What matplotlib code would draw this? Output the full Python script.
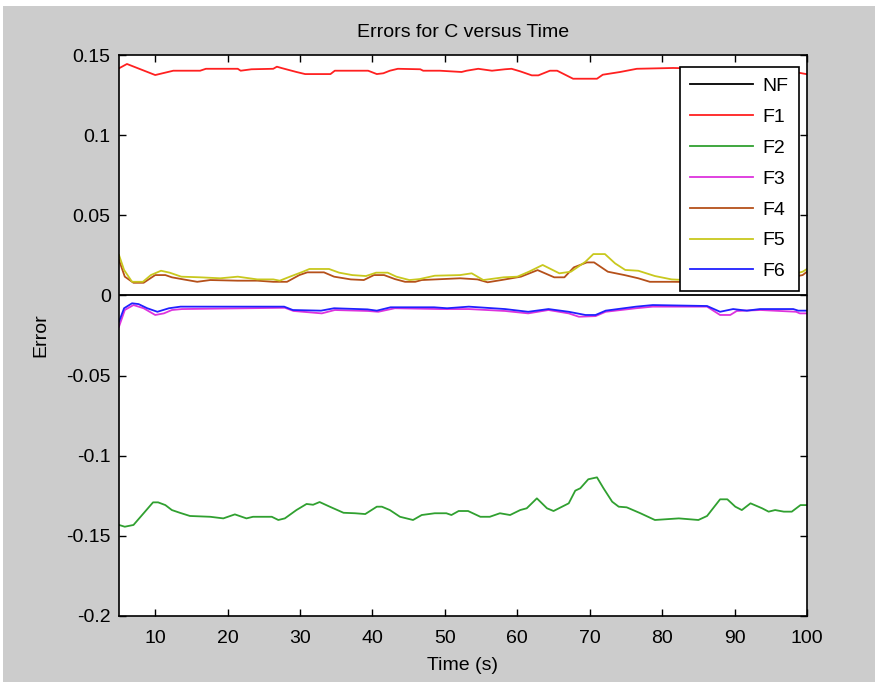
import matplotlib
matplotlib.use("Agg")
import matplotlib.pyplot as plt
from matplotlib.patches import Rectangle

plt.rcParams['font.family'] = ['Liberation Sans', 'DejaVu Sans']
plt.rcParams['axes.unicode_minus'] = False

# données
t_nf = [5, 100]
nf = [0.0, 0.0]

t_f1 = [5, 6.1, 10, 12.5, 16.2, 17, 21.4, 21.8, 23.3, 26.3, 26.8, 27.5, 29.5, 30.7, 34.2, 34.8, 39.4,
        40.6, 41.5, 42.4, 43.5, 46.6, 47, 49.3, 52.3, 53, 54.6, 56.5, 58.3, 59.2, 60.4, 62, 62.9,
        64.5, 65.5, 67.7, 71, 71.8, 74.2, 76.5, 81.5, 86, 92, 97, 100]
f1 = [0.1417, 0.1444, 0.1375, 0.1402, 0.1402, 0.1414, 0.1414, 0.1402, 0.1411, 0.1414, 0.1427, 0.1418,
      0.1394, 0.1381, 0.1381, 0.1402, 0.1402, 0.1381, 0.1386, 0.1402, 0.1414, 0.1411, 0.1402, 0.1402,
      0.1394, 0.1402, 0.1414, 0.1402, 0.1411, 0.1414, 0.1398, 0.1373, 0.1373, 0.1402, 0.1402, 0.1352,
      0.1352, 0.1377, 0.1394, 0.1414, 0.1419, 0.1415, 0.1410, 0.1405, 0.1380]

t_f2 = [5, 5.8, 7.0, 8.4, 9.7, 10.4, 11.4, 12.3, 13.4, 14.8, 17.6, 19.4, 21.0, 22.6, 23.5, 26.1, 27.0,
        27.9, 29.5, 30.9, 31.8, 32.7, 34.1, 36.0, 37.6, 39.0, 40.6, 41.3, 42.4, 43.8, 45.6, 46.8,
        48.6, 50.2, 50.9, 51.9, 53.2, 54.9, 56.2, 57.6, 59.0, 60.4, 61.3, 62.7, 64.1, 65.0, 67.1,
        68.0, 68.7, 69.8, 71.0, 71.9, 73.1, 74.0, 75.1, 77.0, 79.0, 82.3, 85.0, 86.2, 88.0, 89.0,
        90.1, 91.0, 92.2, 93.8, 94.7, 95.6, 96.8, 97.9, 99.1, 100]
f2 = [-0.1432, -0.1443, -0.1432, -0.1359, -0.1291, -0.1291, -0.1308, -0.1339, -0.1356, -0.1376,
      -0.1381, -0.1391, -0.1366, -0.1391, -0.1381, -0.1381, -0.1401, -0.1391, -0.1339, -0.1301,
      -0.1306, -0.1289, -0.1318, -0.1356, -0.1359, -0.1364, -0.1318, -0.1318, -0.1339, -0.1381,
      -0.1401, -0.1370, -0.1359, -0.1359, -0.1370, -0.1345, -0.1345, -0.1381, -0.1381, -0.1359,
      -0.1370, -0.1339, -0.1328, -0.1266, -0.1328, -0.1345, -0.1297, -0.1218, -0.1203, -0.1147,
      -0.1135, -0.1203, -0.1287, -0.1318, -0.1322, -0.1359, -0.1401, -0.1391, -0.1401, -0.1376,
      -0.1272, -0.1272, -0.1318, -0.1339, -0.1297, -0.1328, -0.1349, -0.1339, -0.1349, -0.1349,
      -0.1308, -0.1308]

t_f3 = [5, 5.8, 7.0, 8.4, 10.0, 11.2, 12.3, 13.7, 27.9, 29.1, 33.0, 34.8, 39.4, 40.8, 43.1, 49.3,
        53.3, 58.3, 61.5, 64.3, 67.1, 68.5, 70.8, 72.2, 76.4, 78.7, 86.2, 88.0, 89.4, 90.3, 93.6,
        98.5, 99.0, 100]
f3 = [-0.0195, -0.0091, -0.0060, -0.0080, -0.0122, -0.0112, -0.0091, -0.0085, -0.0077, -0.0097,
      -0.0112, -0.0091, -0.0097, -0.0102, -0.0080, -0.0085, -0.0085, -0.0097, -0.0112, -0.0091,
      -0.0112, -0.0133, -0.0129, -0.0102, -0.0080, -0.0070, -0.0070, -0.0122, -0.0122, -0.0097,
      -0.0091, -0.0102, -0.0112, -0.0112]

t_f4 = [5, 5.8, 7.0, 8.4, 10.0, 11.4, 12.3, 13.9, 15.8, 17.6, 21.4, 24.1, 26.3, 28.2, 29.9, 31.0,
        33.3, 34.7, 37.0, 38.8, 40.2, 41.6, 43.1, 44.5, 45.9, 46.8, 52.1, 54.5, 55.9, 57.8, 60.5,
        62.8, 65.1, 66.5, 67.8, 69.6, 70.6, 72.5, 74.8, 76.7, 78.3, 81.4, 85, 90, 95, 99.4, 100]
f4 = [0.0221, 0.0117, 0.0079, 0.0079, 0.0127, 0.0127, 0.0113, 0.0100, 0.0085, 0.0096, 0.0092,
      0.0092, 0.0085, 0.0085, 0.0127, 0.0144, 0.0144, 0.0117, 0.0100, 0.0096, 0.0127, 0.0127,
      0.0102, 0.0085, 0.0085, 0.0096, 0.0107, 0.0100, 0.0082, 0.0096, 0.0117, 0.0158, 0.0113,
      0.0113, 0.0175, 0.0206, 0.0206, 0.0148, 0.0127, 0.0107, 0.0085, 0.0085, 0.0083, 0.0080,
      0.0090, 0.0127, 0.0148]

t_f5 = [5, 5.7, 6.8, 8.3, 9.4, 10.8, 12.0, 13.6, 16.2, 19.0, 21.4, 24.1, 26.3, 27.2, 28.6, 30.4,
        31.3, 34.0, 35.4, 37.2, 39.1, 40.5, 42.1, 43.3, 45.1, 46.5, 48.6, 52.1, 53.7, 55.3, 58.1,
        60.0, 61.6, 63.5, 65.8, 67.4, 69.4, 70.5, 72.1, 73.5, 74.9, 76.7, 79.0, 81.3, 85, 90, 95,
        99.4, 100]
f5 = [0.0252, 0.0159, 0.0085, 0.0085, 0.0127, 0.0154, 0.0142, 0.0117, 0.0113, 0.0107, 0.0117,
      0.0100, 0.0100, 0.0092, 0.0117, 0.0148, 0.0165, 0.0165, 0.0142, 0.0127, 0.0121, 0.0142,
      0.0142, 0.0117, 0.0096, 0.0102, 0.0123, 0.0127, 0.0138, 0.0096, 0.0113, 0.0117, 0.0148,
      0.0190, 0.0138, 0.0148, 0.0210, 0.0258, 0.0258, 0.0200, 0.0159, 0.0154, 0.0121, 0.0100,
      0.0092, 0.0088, 0.0095, 0.0148, 0.0165]

t_f6 = [5, 5.7, 6.8, 7.7, 8.9, 10.3, 11.9, 13.5, 27.8, 29.0, 32.9, 34.7, 39.3, 40.6, 42.5, 48.5,
        50.3, 53.3, 58.3, 61.5, 64.3, 67.1, 69.4, 70.8, 72.2, 76.4, 78.7, 86.2, 88.0, 89.8, 91.7,
        93.5, 98.1, 98.8, 100]
f6 = [-0.0164, -0.0080, -0.0049, -0.0054, -0.0080, -0.0102, -0.0080, -0.0070, -0.0070, -0.0091,
      -0.0095, -0.0080, -0.0087, -0.0095, -0.0074, -0.0074, -0.0080, -0.0070, -0.0085, -0.0102,
      -0.0085, -0.0102, -0.0122, -0.0122, -0.0095, -0.0070, -0.0060, -0.0066, -0.0102, -0.0085,
      -0.0095, -0.0085, -0.0085, -0.0095, -0.0095]

noms = ["NF", "F1", "F2", "F3", "F4", "F5", "F6"]
couleurs = ["black", "#ff2020", "#30a030", "#dd33dd", "#b5501a", "#c8c81e", "#2020ff"]
series = [(t_nf, nf), (t_f1, f1), (t_f2, f2), (t_f3, f3), (t_f4, f4), (t_f5, f5), (t_f6, f6)]

y_ticks = [-0.2, -0.15, -0.1, -0.05, 0, 0.05, 0.1, 0.15]
y_labels = ["-0.2", "-0.15", "-0.1", "-0.05", "0", "0.05", "0.1", "0.15"]
x_ticks = [10, 20, 30, 40, 50, 60, 70, 80, 90, 100]

fig = plt.figure(figsize=(8.78, 6.85), dpi=100)
fig.patch.set_facecolor("white")
fig.patches.append(Rectangle((3 / 878, 3 / 685), 872 / 878, 676 / 685, transform=fig.transFigure,
                             facecolor="#cccccc", edgecolor="none", zorder=-10))

ax = fig.add_axes([119 / 878, 69 / 685, 688 / 878, 561 / 685])
ax.set_facecolor("white")

for (nom, c, (t, v)) in zip(noms, couleurs, series):
    ax.plot(t, v, color=c, lw=1.3, label=nom)

ax.set_xlim(5, 100)
ax.set_ylim(-0.2, 0.15)
ax.set_xticks(x_ticks)
ax.set_xticklabels([str(k) for k in x_ticks])
ax.set_yticks(y_ticks)
ax.set_yticklabels(y_labels)
ax.tick_params(direction="in", length=5, width=1, labelsize=14, top=True, right=True)
ax.tick_params(axis="x", pad=10)
ax.tick_params(axis="y", pad=6)
for sp in ax.spines.values():
    sp.set_linewidth(1.2)

ax.set_title("Errors for C versus Time", fontsize=14, pad=13)
ax.set_xlabel("Time (s)", fontsize=14, labelpad=7)
ax.set_ylabel("Error", fontsize=14, labelpad=12)

leg = ax.legend(loc="upper right", bbox_to_anchor=(680 / 688, 549 / 561), borderaxespad=0,
                fontsize=14, handlelength=3.2, labelspacing=0.68, fancybox=False,
                framealpha=1, edgecolor="black", borderpad=0.55, handletextpad=0.5)
leg.get_frame().set_linewidth(1.2)

fig.savefig("out.png", dpi=100, facecolor=fig.get_facecolor())
